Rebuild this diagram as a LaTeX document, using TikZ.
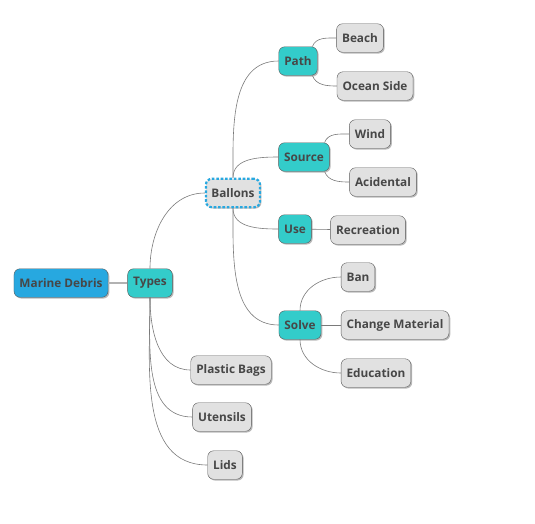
\documentclass[tikz,border=0pt]{standalone}
\usepackage{fontspec}
\setmainfont{Open Sans}
\usetikzlibrary{shadows}
\definecolor{rootblue}{HTML}{27A8E0}
\definecolor{branchteal}{HTML}{33CCCA}
\definecolor{leafgrey}{HTML}{E1E1E1}
\definecolor{edgegrey}{HTML}{7A7A7A}
\definecolor{labelgrey}{HTML}{474747}
\begin{document}
\begin{tikzpicture}[x=1pt, y=-1pt, font=\fontsize{11.8}{14}\selectfont\bfseries,
        base/.style={draw=black!65, rounded corners=6pt, minimum height=28.5pt, inner xsep=5.5pt,
          text=labelgrey, drop shadow={shadow xshift=1.3pt, shadow yshift=-1.3pt, opacity=0.55}},
        R/.style={base, fill=rootblue},
        B/.style={base, fill=branchteal},
        L/.style={base, fill=leafgrey},
        sel/.style={L, draw=rootblue, line width=2.2pt, dash pattern=on 2.6pt off 1.8pt},
        link/.style={draw=edgegrey, line width=0.6pt},
        trunk/.style={draw=black!30, line width=1.4pt}
      ]
        \useasboundingbox (0,0) rectangle (535,523);
        % root and first level
        \node[R] (debris) at (61,283) {Marine Debris};
        \node[B] (types) at (150,283) {Types};
        % kinds of debris
        \node[sel] (ballons) at (233,193) {Ballons};
        \node[L] (bags) at (231,370) {Plastic Bags};
        \node[L] (utensils) at (222,417) {Utensils};
        \node[L] (lids) at (225,465) {Lids};
        % balloon branches
        \node[B] (path) at (298,61) {Path};
        \node[B] (source) at (304,157) {Source};
        \node[B] (use) at (295,229) {Use};
        \node[B] (solve) at (300,325) {Solve};
        % leaves
        \node[L] (beach) at (360,38) {Beach};
        \node[L] (ocean) at (375,86) {Ocean Side};
        \node[L] (wind) at (370,134) {Wind};
        \node[L] (accident) at (383,182) {Acidental};
        \node[L] (recreation) at (368,230) {Recreation};
        \node[L] (ban) at (358,277) {Ban};
        \node[L] (material) at (395,325) {Change Material};
        \node[L] (education) at (376,373) {Education};
        % connectors
        \draw[trunk] (debris) -- (types);
        \draw[link] (types.north) to[out=90, in=180] (ballons.west);
        \foreach \kind in {bags, utensils, lids}
          \draw[link] (types.south) to[out=-90, in=180] (\kind.west);
        \foreach \part in {path, source}
          \draw[link] (ballons.north) to[out=90, in=180] (\part.west);
        \foreach \part in {use, solve}
          \draw[link] (ballons.south) to[out=-90, in=180] (\part.west);
        \draw[link] ([xshift=-5pt]path.north east) to[out=70, in=180] (beach.west);
        \draw[link] ([xshift=-5pt]path.south east) to[out=-70, in=180] (ocean.west);
        \draw[link] ([xshift=-5pt]source.north east) to[out=70, in=180] (wind.west);
        \draw[link] ([xshift=-5pt]source.south east) to[out=-70, in=180] (accident.west);
        \draw[link] (use) -- (recreation);
        \draw[link] (solve.north) to[out=90, in=180] (ban.west);
        \draw[link] (solve) -- (material);
        \draw[link] (solve.south) to[out=-90, in=180] (education.west);
      \end{tikzpicture}
\end{document}
